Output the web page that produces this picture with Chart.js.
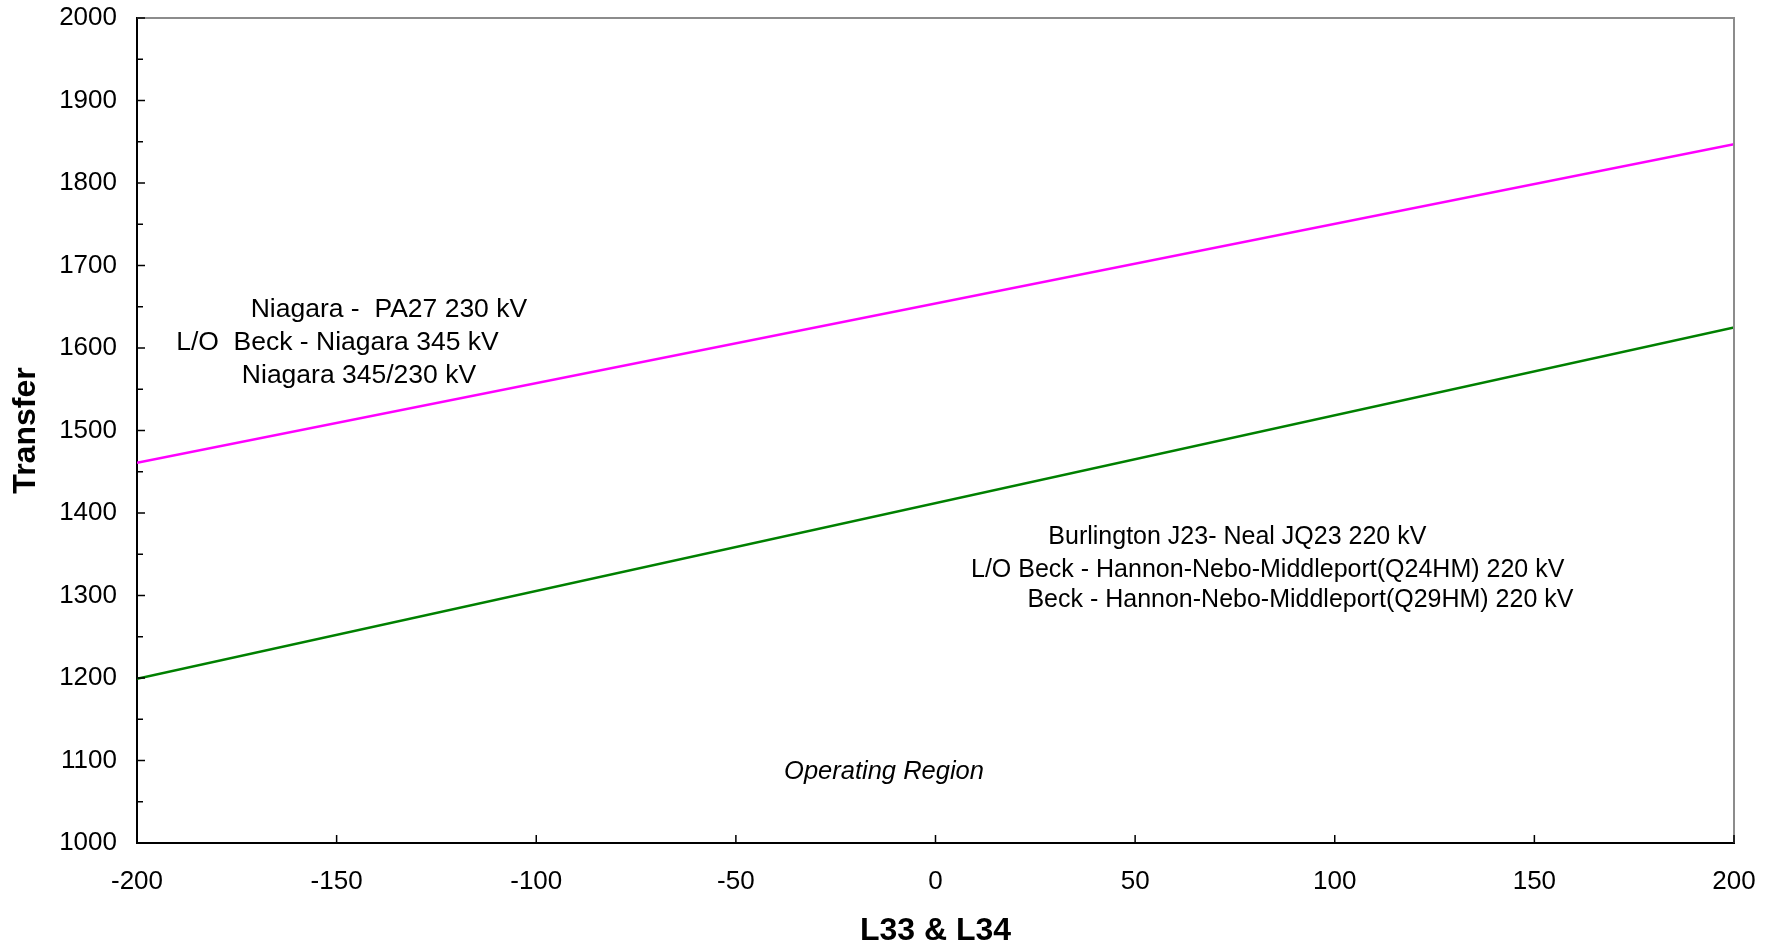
<!DOCTYPE html>
<html>
<head>
<meta charset="utf-8">
<title>Transfer vs L33 & L34</title>
<script src="https://cdn.jsdelivr.net/npm/chart.js@4.4.1/dist/chart.umd.min.js"></script>
<style>
    html, body { margin: 0; padding: 0; background: #fff; }
    #wrap { width: 1776px; height: 948px; }
</style>
</head>
<body>
<div id="wrap"><canvas id="chart" width="1776" height="948"></canvas></div>
<script>
/* limit lines: L33 & L34 flow vs transfer */
const xTicks = [-200, -150, -100, -50, 0, 50, 100, 150, 200];
const yTicks = [1000, 1100, 1200, 1300, 1400, 1500, 1600, 1700, 1800, 1900, 2000];

const flowX = [-200, 200];
const niagaraY = [1461, 1847];
const burlingtonY = [1199, 1625];

const niagaraLabel = ["Niagara -  PA27 230 kV", "L/O  Beck - Niagara 345 kV", "Niagara 345/230 kV"];
const niagaraLabelX = [-136.9, -149.8, -144.4];
const niagaraLabelY = [1647, 1607, 1567];

const burlingtonLabel = [
    "Burlington J23- Neal JQ23 220 kV",
    "L/O Beck - Hannon-Nebo-Middleport(Q24HM) 220 kV",
    "Beck - Hannon-Nebo-Middleport(Q29HM) 220 kV"
];
const burlingtonLabelX = [75.6, 83.2, 91.4];
const burlingtonLabelY = [1371, 1331, 1295];

const regionLabel = "Operating Region";
const regionX = -12.9, regionY = 1086;

const FONT = "'Liberation Sans', Arial, sans-serif";

function points(xs, ys) { return xs.map((x, i) => ({ x: x, y: ys[i] })); }

/* frame (top/right), inward tick marks and text notes */
const decor = {
    id: "decor",
    afterDatasetsDraw(chart) {
        const { ctx, chartArea: a, scales: { x, y } } = chart;
        ctx.save();
        ctx.strokeStyle = "#8c8c8c";
        ctx.lineWidth = 2;
        ctx.beginPath();
        ctx.moveTo(a.left, a.top); ctx.lineTo(a.right, a.top); ctx.lineTo(a.right, a.bottom);
        ctx.stroke();

        ctx.strokeStyle = "#000";
        ctx.lineWidth = 1.5;
        ctx.beginPath();
        yTicks.forEach((v, i) => {
            const py = y.getPixelForValue(v);
            ctx.moveTo(a.left, py); ctx.lineTo(a.left + 8, py);
            if (i < yTicks.length - 1) {
                const pm = y.getPixelForValue((v + yTicks[i + 1]) / 2);
                ctx.moveTo(a.left, pm); ctx.lineTo(a.left + 6, pm);
            }
        });
        xTicks.forEach(v => {
            const px = x.getPixelForValue(v);
            ctx.moveTo(px, a.bottom); ctx.lineTo(px, a.bottom - 8);
        });
        ctx.stroke();

        ctx.fillStyle = "#000";
        ctx.textAlign = "center";
        ctx.textBaseline = "middle";
        ctx.font = "26.5px " + FONT;
        niagaraLabel.forEach((t, i) =>
            ctx.fillText(t, x.getPixelForValue(niagaraLabelX[i]), y.getPixelForValue(niagaraLabelY[i])));
        ctx.font = "25px " + FONT;
        burlingtonLabel.forEach((t, i) =>
            ctx.fillText(t, x.getPixelForValue(burlingtonLabelX[i]), y.getPixelForValue(burlingtonLabelY[i])));
        ctx.font = "italic 25.5px " + FONT;
        ctx.fillText(regionLabel, x.getPixelForValue(regionX), y.getPixelForValue(regionY));
        ctx.restore();
    }
};

new Chart(document.getElementById("chart"), {
    type: "line",
    data: {
        datasets: [
            { label: "Niagara", data: points(flowX, niagaraY), borderColor: "#ff00ff", borderWidth: 2.5, pointRadius: 0, fill: false },
            { label: "Burlington", data: points(flowX, burlingtonY), borderColor: "#008000", borderWidth: 2.5, pointRadius: 0, fill: false }
        ]
    },
    options: {
        responsive: false,
        animation: false,
        layout: { padding: { top: 18, right: 42, left: 0, bottom: 0 } },
        plugins: { legend: { display: false }, tooltip: { enabled: false } },
        scales: {
            x: {
                type: "linear", min: -200, max: 200,
                afterBuildTicks: s => { s.ticks = xTicks.map(v => ({ value: v })); },
                afterFit: s => { s.height = 105; s.paddingLeft = 0; s.paddingRight = 0; },
                grid: { drawOnChartArea: false, drawTicks: false },
                border: { color: "#000", width: 2 },
                ticks: { color: "#000", padding: 23.5, font: { family: FONT, size: 26 }, maxRotation: 0,
                         callback: v => String(v) },
                title: { display: true, text: "L33 & L34", color: "#000", padding: { top: 0, bottom: 0.5 },
                         font: { family: FONT, size: 32, weight: "bold", lineHeight: 1 } }
            },
            y: {
                type: "linear", min: 1000, max: 2000,
                afterBuildTicks: s => { s.ticks = yTicks.map(v => ({ value: v })); },
                afterFit: s => { s.width = 137; s.paddingTop = 0; s.paddingBottom = 0; },
                grid: { drawOnChartArea: false, drawTicks: false },
                border: { color: "#000", width: 2 },
                ticks: { color: "#000", padding: 20, font: { family: FONT, size: 26 }, callback: v => String(v) },
                title: { display: true, text: "Transfer", color: "#000", padding: { top: 10, bottom: 0 },
                         font: { family: FONT, size: 32, weight: "bold", lineHeight: 1 } }
            }
        }
    },
    plugins: [decor]
});
</script>
</body>
</html>
